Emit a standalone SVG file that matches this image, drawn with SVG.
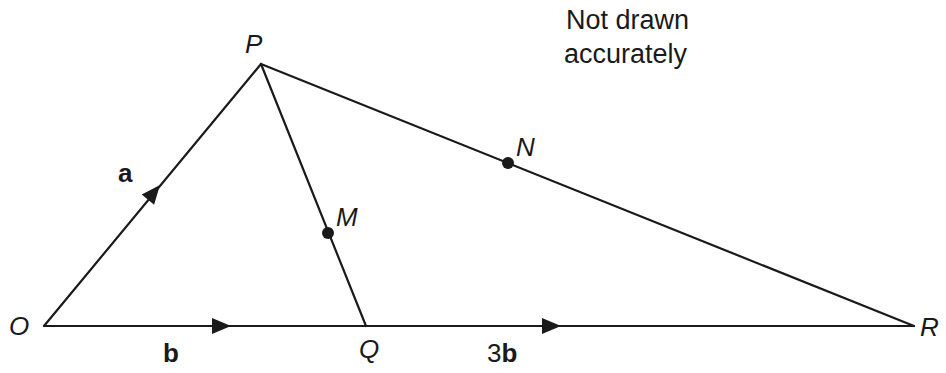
<svg xmlns="http://www.w3.org/2000/svg" xmlns:xlink="http://www.w3.org/1999/xlink" width="946" height="373" viewBox="0 0 946 373">
<style>
.ln{stroke:#1a1a1a;stroke-width:2.2;fill:none;stroke-linecap:round}
.ah{fill:#1a1a1a}
.dot{fill:#1a1a1a}
.it{font-family:"Liberation Sans",Arial,sans-serif;font-size:26px;font-style:italic;fill:#1a1a1a}
.bd{font-family:"Liberation Sans",Arial,sans-serif;font-size:26px;font-weight:bold;fill:#1a1a1a}
.nm{font-family:"Liberation Sans",Arial,sans-serif;font-size:26px;fill:#1a1a1a}
.nt{font-family:"Liberation Sans",Arial,sans-serif;font-size:27px;fill:#1a1a1a}
</style>
<defs>
<path id="ah" d="M0,0 L-19,-8 L-19,8 z"/>
</defs>
<rect width="946" height="373" fill="#fff"/>
<g id="connectors">
<line class="ln" x1="44" y1="326" x2="914" y2="326"/>
<line class="ln" x1="44" y1="326" x2="261" y2="64"/>
<line class="ln" x1="261" y1="64" x2="914" y2="326"/>
<line class="ln" x1="261" y1="64" x2="366" y2="326"/>
<use class="ah" xlink:href="#ah" transform="translate(160,185) rotate(-50.5)"/>
<use class="ah" xlink:href="#ah" transform="translate(231,326)"/>
<use class="ah" xlink:href="#ah" transform="translate(561,326)"/>
</g>
<g id="node-O"><text class="it" x="9" y="335">O</text></g>
<g id="node-P"><text class="it" x="245" y="53">P</text></g>
<g id="node-Q"><text class="it" x="359" y="358">Q</text></g>
<g id="node-R"><text class="it" x="920" y="336">R</text></g>
<g id="node-M"><circle class="dot" cx="328" cy="233" r="6"/><text class="it" x="336" y="226">M</text></g>
<g id="node-N"><circle class="dot" cx="508" cy="163" r="6"/><text class="it" x="516" y="156">N</text></g>
<g id="labels">
<text class="bd" x="118" y="182">a</text>
<text class="bd" x="163" y="362">b</text>
<text class="nm" x="487" y="362">3<tspan font-weight="bold">b</tspan></text>
<text class="nt" x="566" y="29">Not drawn</text>
<text class="nt" x="564" y="63">accurately</text>
</g>
</svg>
